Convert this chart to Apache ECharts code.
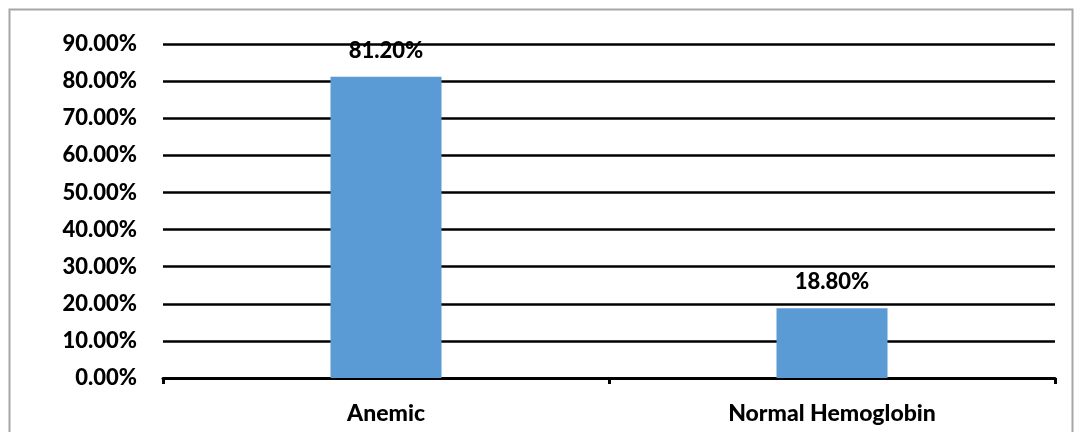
<!DOCTYPE html>
<html>
<head>
<meta charset="utf-8">
<script src="https://cdn.jsdelivr.net/npm/echarts@6/dist/echarts.min.js"></script>
<style>
  html, body { margin: 0; padding: 0; background: #fff; }
  #chart { width: 1075px; height: 432px; }
</style>
</head>
<body>
<div id="chart"></div>
<script>
// Hemoglobin status share (%)
const categories = ['Anemic', 'Normal Hemoglobin'];
const shares = [81.2, 18.8];
const yTicks = { min: 0, max: 90, interval: 10 };

const FONT = 'Lato, "Open Sans", sans-serif';
const WEIGHT = 900;

const chart = echarts.init(document.getElementById('chart'), null, { renderer: 'canvas' });
chart.setOption({
  animation: false,
  backgroundColor: '#ffffff',
  graphic: [{
    type: 'rect',
    silent: true,
    shape: { x: 9.5, y: 9.5, width: 1063, height: 440 },
    style: { fill: 'none', stroke: '#a6a6a6', lineWidth: 2 }
  }],
  grid: { left: 163, right: 20, top: 44, bottom: 54, containLabel: false },
  xAxis: {
    type: 'category',
    data: categories,
    axisLine: { lineStyle: { color: '#000', width: 3 } },
    axisTick: { show: true, length: 6, lineStyle: { color: '#000', width: 3 } },
    axisLabel: {
      color: '#000', fontFamily: FONT, fontWeight: WEIGHT, fontSize: 23, margin: 24
    },
    splitLine: { show: false }
  },
  yAxis: {
    type: 'value',
    min: yTicks.min, max: yTicks.max, interval: yTicks.interval,
    axisLine: { show: false },
    axisTick: { show: false },
    axisLabel: {
      color: '#000', fontFamily: FONT, fontWeight: WEIGHT, fontSize: 22, margin: 26,
      formatter: v => v.toFixed(2) + '%'
    },
    splitLine: { lineStyle: { color: '#000', width: 2.5 } }
  },
  series: [{
    type: 'bar',
    data: shares,
    barWidth: 111,
    itemStyle: { color: '#5b9bd5' },
    label: {
      show: true, position: 'top', distance: 15,
      color: '#000', fontFamily: FONT, fontWeight: WEIGHT, fontSize: 22,
      formatter: p => p.value.toFixed(2) + '%'
    }
  }]
});
</script>
</body>
</html>
